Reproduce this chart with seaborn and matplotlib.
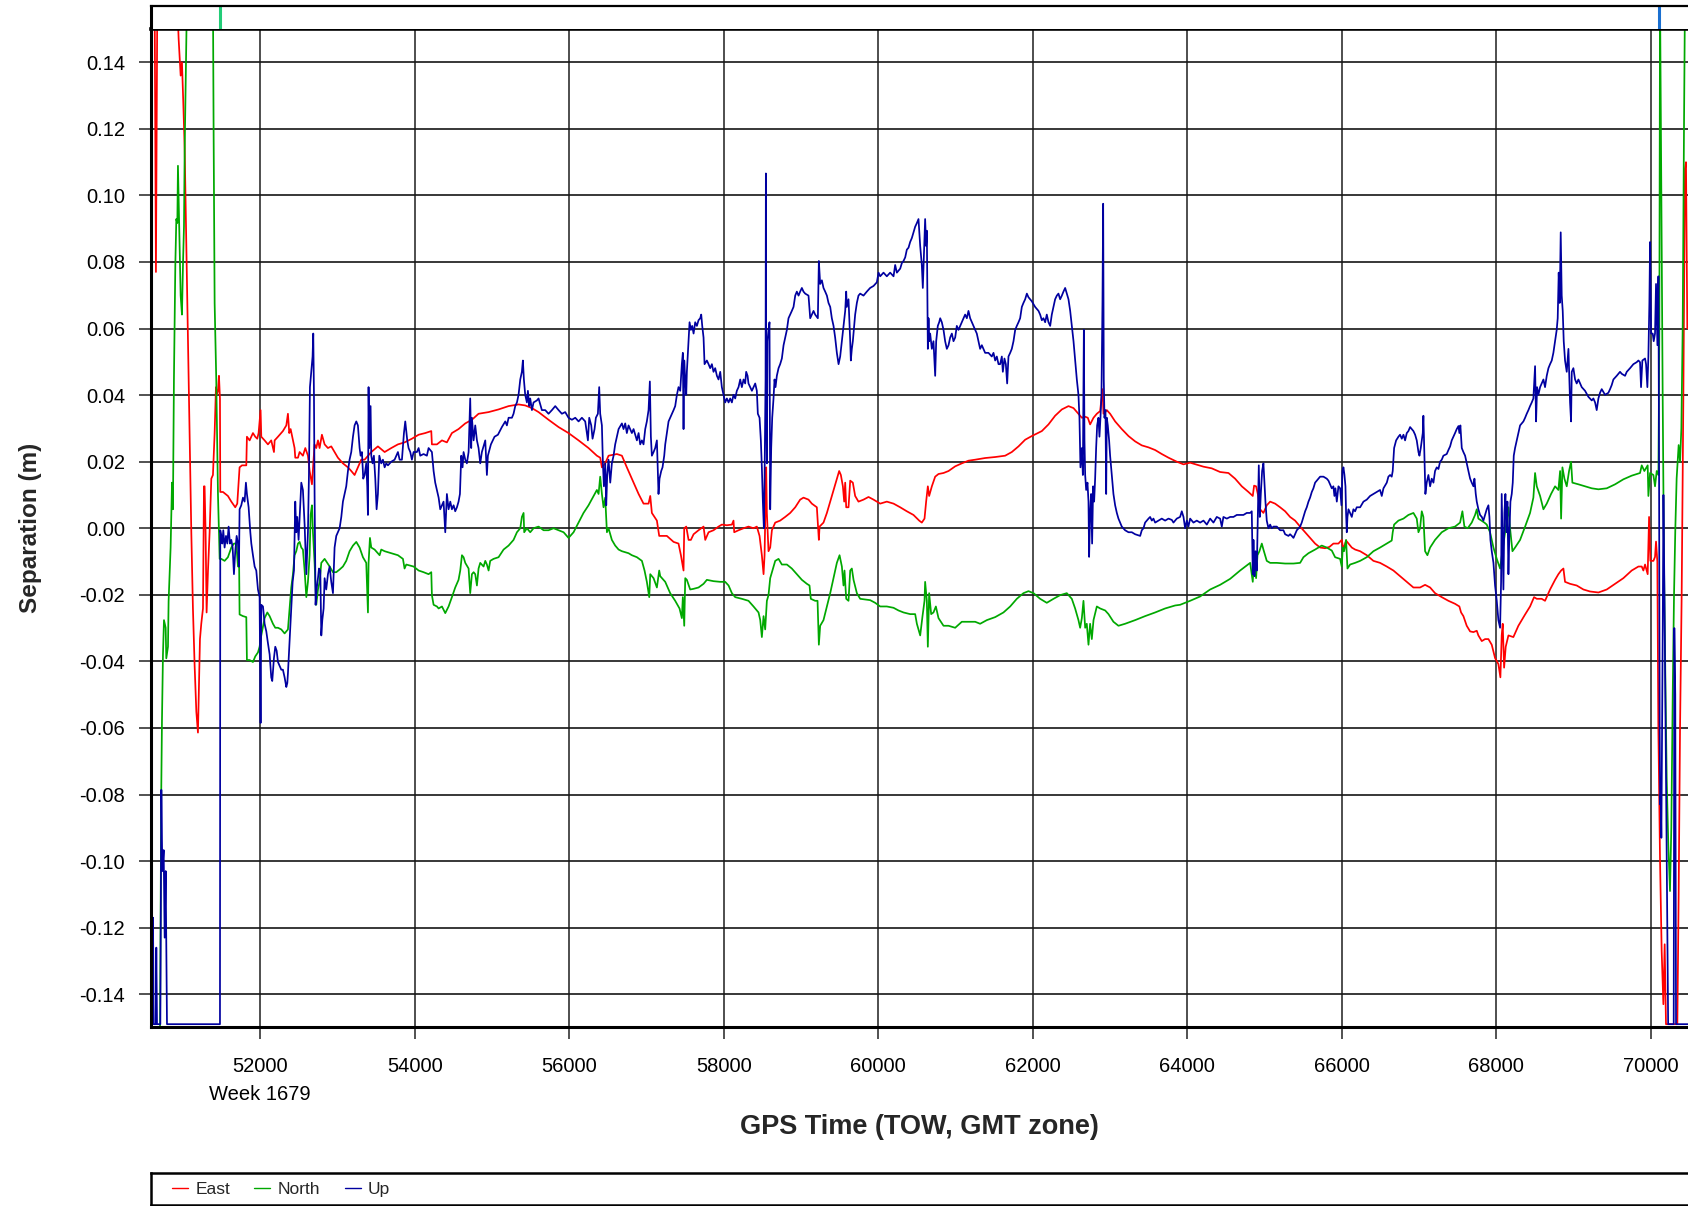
import numpy as np
import pandas as pd
import matplotlib
matplotlib.use("Agg")
import matplotlib.pyplot as plt
import seaborn as sns
from matplotlib.lines import Line2D
from matplotlib.ticker import FormatStrFormatter

# East separation (s of week, metres)
east_t = [50589, 50595, 50632, 50649, 50667, 50921, 50943, 50969, 50986, 51003, 51021, 51042,
          51064, 51085, 51107, 51128, 51150, 51172, 51193, 51206, 51219, 51236, 51258, 51271,
          51279, 51292, 51305, 51323, 51344, 51366, 51387, 51409, 51426, 51439, 51452, 51465,
          51478, 51482, 51517, 51581, 51625, 51676, 51702, 51732, 51763, 51819, 51827, 51862,
          51905, 51935, 51961, 51978, 52004, 52013, 52056, 52099, 52142, 52177, 52186, 52229,
          52293, 52337, 52358, 52375, 52393, 52423, 52444, 52453, 52488, 52509, 52552, 52583,
          52617, 52639, 52669, 52703, 52725, 52747, 52768, 52798, 52833, 52876, 52919, 52962,
          53005, 53070, 53135, 53178, 53221, 53264, 53307, 53351, 53437, 53523, 53610, 53696,
          53782, 53868, 53963, 54050, 54136, 54214, 54222, 54287, 54352, 54416, 54481, 54567,
          54654, 54740, 54826, 54956, 55085, 55215, 55344, 55430, 55517, 55603, 55732, 55862,
          55991, 56121, 56250, 56358, 56401, 56423, 56466, 56509, 56617, 56682, 56746, 56811,
          56898, 56962, 57027, 57049, 57070, 57135, 57165, 57264, 57351, 57415, 57446, 57480,
          57489, 57515, 57545, 57575, 57610, 57674, 57739, 57761, 57804, 57868, 57933, 57976,
          58041, 58106, 58127, 58136, 58192, 58257, 58321, 58386, 58429, 58464, 58494, 58516,
          58529, 58550, 58559, 58580, 58602, 58624, 58667, 58731, 58796, 58861, 58926, 58990,
          59033, 59098, 59141, 59206, 59232, 59241, 59292, 59336, 59379, 59422, 59465, 59495,
          59517, 59543, 59560, 59573, 59586, 59616, 59638, 59672, 59702, 59745, 59810, 59875,
          59940, 60026, 60112, 60199, 60285, 60371, 60457, 60531, 60565, 60600, 60621, 60643,
          60660, 60695, 60738, 60781, 60846, 60911, 60997, 61083, 61169, 61256, 61385, 61515,
          61644, 61730, 61817, 61903, 61989, 62119, 62205, 62291, 62378, 62464, 62529, 62593,
          62637, 62680, 62714, 62744, 62788, 62831, 62874, 62904, 62917, 62960, 63003, 63068,
          63154, 63241, 63327, 63413, 63500, 63586, 63672, 63759, 63866, 63953, 64039, 64125,
          64212, 64319, 64427, 64535, 64621, 64708, 64794, 64850, 64867, 64893, 64915, 64945,
          64988, 65031, 65075, 65139, 65204, 65269, 65333, 65398, 65463, 65528, 65592, 65657,
          65722, 65786, 65843, 65894, 65959, 66002, 66024, 66058, 66089, 66132, 66175, 66240,
          66326, 66412, 66498, 66585, 66671, 66757, 66844, 66930, 67016, 67081, 67146, 67210,
          67297, 67383, 67469, 67525, 67547, 67577, 67620, 67664, 67707, 67750, 67771, 67815,
          67858, 67901, 67944, 67987, 68030, 68056, 68073, 68086, 68104, 68125, 68160, 68224,
          68289, 68376, 68440, 68492, 68527, 68591, 68634, 68699, 68764, 68807, 68842, 68872,
          68893, 68958, 69044, 69131, 69217, 69325, 69433, 69541, 69648, 69756, 69843, 69886,
          69907, 69929, 69963, 69981, 69998, 70037, 70058, 70071, 70088, 70101, 70123, 70144,
          70166, 70183, 70200, 70347, 70364, 70382, 70403, 70425, 70446, 70459, 70476, 70490]
east_v = [0.020, 0.160, 0.160, 0.077, 0.160, 0.160, 0.147, 0.136, 0.140, 0.128, 0.114, 0.0848,
          0.0562, 0.0275, -0.0012, -0.0241, -0.0413, -0.0551, -0.0614, -0.0471, -0.0333, -0.0287, -0.0241, 0.0126,
          0.0126, -0.0012, -0.0253, -0.0127, -0.0012, 0.0149, 0.0160, 0.0286, 0.0424, 0.0401, 0.0412, 0.0458,
          0.0390, 0.0109, 0.0109, 0.0097, 0.0080, 0.0063, 0.0074, 0.0183, 0.0189, 0.0189, 0.0275, 0.0264,
          0.0286, 0.0275, 0.0269, 0.0286, 0.0355, 0.0275, 0.0264, 0.0252, 0.0264, 0.0229, 0.0264, 0.0275,
          0.0292, 0.0309, 0.0344, 0.0286, 0.0298, 0.0264, 0.0241, 0.0212, 0.0212, 0.0229, 0.0218, 0.0241,
          0.0218, 0.0172, 0.0132, 0.0252, 0.0241, 0.0264, 0.0241, 0.0281, 0.0252, 0.0241, 0.0246, 0.0229,
          0.0212, 0.0195, 0.0183, 0.0172, 0.0160, 0.0183, 0.0206, 0.0206, 0.0229, 0.0246, 0.0229, 0.0241,
          0.0252, 0.0258, 0.0269, 0.0281, 0.0286, 0.0292, 0.0252, 0.0252, 0.0264, 0.0258, 0.0286, 0.0298,
          0.0315, 0.0326, 0.0344, 0.0349, 0.0357, 0.0367, 0.0372, 0.0369, 0.0361, 0.0349, 0.0326, 0.0304,
          0.0286, 0.0264, 0.0241, 0.0218, 0.0212, 0.0183, 0.0195, 0.0218, 0.0223, 0.0218, 0.0183, 0.0149,
          0.0103, 0.0074, 0.0074, 0.0097, 0.0046, 0.0023, -0.0023, -0.0023, -0.0041, -0.0046, -0.0081, -0.0127,
          0.0000, 0.0005, -0.0035, -0.0035, -0.0018, -0.0006, 0.0005, -0.0035, -0.0012, -0.0006, 0.0005, 0.0011,
          0.0009, 0.0011, 0.0023, -0.0012, -0.0006, 0.0000, 0.0005, 0.0000, 0.0005, -0.0023, -0.0081, -0.0138,
          -0.0081, 0.0183, 0.0046, -0.0069, -0.0058, -0.0006, 0.0017, 0.0023, 0.0034, 0.0046, 0.0063, 0.0086,
          0.0092, 0.0086, 0.0074, 0.0063, -0.0035, 0.0005, 0.0017, 0.0046, 0.0080, 0.0115, 0.0149, 0.0172,
          0.0160, 0.0126, 0.0080, 0.0137, 0.0063, 0.0063, 0.0143, 0.0137, 0.0097, 0.0080, 0.0086, 0.0094,
          0.0086, 0.0074, 0.0080, 0.0074, 0.0063, 0.0051, 0.0040, 0.0023, 0.0017, 0.0029, 0.0080, 0.0126,
          0.0097, 0.0126, 0.0155, 0.0163, 0.0166, 0.0172, 0.0186, 0.0195, 0.0203, 0.0206, 0.0211, 0.0214,
          0.0218, 0.0229, 0.0246, 0.0266, 0.0277, 0.0292, 0.0312, 0.0338, 0.0357, 0.0367, 0.0361, 0.0344,
          0.0332, 0.0335, 0.0332, 0.0312, 0.0332, 0.0344, 0.0352, 0.0418, 0.0344, 0.0355, 0.0344, 0.0321,
          0.0298, 0.0277, 0.0261, 0.0249, 0.0243, 0.0235, 0.0223, 0.0212, 0.0200, 0.0192, 0.0197, 0.0191,
          0.0185, 0.0180, 0.0169, 0.0166, 0.0149, 0.0126, 0.0109, 0.0097, 0.0128, 0.0126, 0.0103, 0.0057,
          0.0046, 0.0069, 0.0080, 0.0074, 0.0063, 0.0051, 0.0034, 0.0023, 0.0005, -0.0012, -0.0029, -0.0046,
          -0.0058, -0.0060, -0.0056, -0.0046, -0.0046, -0.0035, -0.0064, -0.0037, -0.0046, -0.0058, -0.0064, -0.0069,
          -0.0081, -0.0098, -0.0104, -0.0115, -0.0127, -0.0144, -0.0161, -0.0178, -0.0178, -0.0170, -0.0178, -0.0195,
          -0.0207, -0.0218, -0.0227, -0.0235, -0.0253, -0.0264, -0.0293, -0.0310, -0.0312, -0.0308, -0.0322, -0.0339,
          -0.0333, -0.0333, -0.0350, -0.0390, -0.0408, -0.0448, -0.0322, -0.0287, -0.0419, -0.0356, -0.0322, -0.0327,
          -0.0293, -0.0259, -0.0235, -0.0207, -0.0212, -0.0212, -0.0218, -0.0184, -0.0155, -0.0138, -0.0127, -0.0121,
          -0.0161, -0.0167, -0.0172, -0.0184, -0.0190, -0.0193, -0.0184, -0.0167, -0.0150, -0.0127, -0.0115, -0.0115,
          -0.0127, -0.0109, -0.0138, 0.0034, -0.0098, -0.0098, -0.0086, -0.0040, -0.0100, -0.0600, -0.1000, -0.1270,
          -0.1430, -0.1250, -0.1490, -0.1490, -0.1100, -0.0600, -0.0200, 0.0400, 0.1080, 0.1100, 0.0600, 0.0600]

# North separation
north_t = [50700, 50718, 50727, 50740, 50753, 50775, 50783, 50805, 50813, 50839, 50857, 50869,
           50882, 50900, 50913, 50926, 50934, 50951, 50969, 50986, 50999, 51012, 51021, 51051,
           51387, 51396, 51409, 51430, 51452, 51474, 51495, 51538, 51581, 51625, 51659, 51689,
           51711, 51724, 51732, 51776, 51819, 51827, 51862, 51905, 51935, 51970, 51991, 52013,
           52056, 52091, 52121, 52164, 52194, 52229, 52272, 52315, 52358, 52380, 52401, 52423,
           52444, 52466, 52488, 52509, 52531, 52552, 52574, 52596, 52617, 52639, 52652, 52669,
           52682, 52703, 52725, 52747, 52768, 52790, 52833, 52898, 52941, 52984, 53027, 53070,
           53113, 53156, 53200, 53243, 53286, 53329, 53372, 53394, 53402, 53420, 53437, 53480,
           53545, 53566, 53610, 53696, 53782, 53847, 53868, 53890, 53985, 54050, 54114, 54179,
           54214, 54222, 54244, 54287, 54309, 54352, 54395, 54438, 54481, 54524, 54567, 54589,
           54611, 54632, 54654, 54697, 54718, 54740, 54762, 54783, 54805, 54826, 54848, 54891,
           54913, 54934, 54956, 54977, 55020, 55085, 55150, 55215, 55279, 55323, 55366, 55387,
           55409, 55417, 55452, 55495, 55538, 55603, 55668, 55732, 55797, 55862, 55927, 55991,
           56056, 56121, 56185, 56250, 56315, 56358, 56380, 56401, 56423, 56444, 56466, 56488,
           56509, 56552, 56595, 56639, 56682, 56768, 56811, 56876, 56941, 56975, 57005, 57036,
           57049, 57092, 57135, 57165, 57178, 57243, 57307, 57372, 57428, 57458, 57471, 57489,
           57502, 57523, 57566, 57610, 57674, 57739, 57782, 57868, 57955, 58019, 58063, 58106,
           58149, 58235, 58321, 58386, 58451, 58473, 58494, 58516, 58537, 58559, 58580, 58602,
           58624, 58667, 58710, 58753, 58818, 58882, 58947, 59012, 59077, 59111, 59128, 59184,
           59215, 59232, 59249, 59292, 59336, 59379, 59422, 59465, 59500, 59530, 59551, 59564,
           59586, 59616, 59638, 59659, 59681, 59724, 59767, 59896, 59961, 60026, 60112, 60199,
           60263, 60328, 60414, 60479, 60501, 60544, 60574, 60600, 60608, 60630, 60643, 60660,
           60686, 60716, 60747, 60781, 60846, 60911, 60997, 61083, 61169, 61256, 61320, 61407,
           61515, 61622, 61709, 61795, 61881, 61946, 62011, 62097, 62183, 62270, 62356, 62442,
           62507, 62550, 62593, 62615, 62637, 62658, 62680, 62701, 62723, 62744, 62766, 62788,
           62831, 62874, 62939, 62982, 63046, 63111, 63197, 63327, 63456, 63586, 63715, 63845,
           63909, 64039, 64168, 64298, 64427, 64557, 64686, 64816, 64850, 64867, 64893, 64911,
           64936, 64967, 64988, 65031, 65075, 65161, 65269, 65377, 65463, 65506, 65571, 65657,
           65743, 65808, 65873, 65916, 65981, 66002, 66015, 66032, 66058, 66076, 66110, 66175,
           66240, 66326, 66412, 66498, 66585, 66649, 66662, 66680, 66736, 66801, 66865, 66930,
           66973, 66995, 67016, 67038, 67059, 67081, 67111, 67146, 67210, 67297, 67383, 67469,
           67534, 67564, 67590, 67633, 67685, 67728, 67750, 67771, 67849, 67879, 67922, 67966,
           68009, 68052, 68082, 68117, 68160, 68181, 68212, 68246, 68311, 68376, 68440, 68483,
           68505, 68527, 68570, 68613, 68656, 68712, 68764, 68807, 68829, 68842, 68859, 68885,
           68915, 68945, 68971, 68988, 69066, 69152, 69239, 69325, 69433, 69541, 69648, 69756,
           69864, 69886, 69920, 69963, 69972, 69994, 70037, 70058, 70080, 70102, 70114, 70123,
           70140, 70157, 70174, 70192, 70209, 70230, 70252, 70269, 70287, 70304, 70321, 70338,
           70364, 70382, 70399, 70416, 70433, 70446, 70490]
north_v = [-0.160, -0.0786, -0.058, -0.038, -0.0276, -0.0299, -0.0391, -0.0356, -0.0219, -0.0058, 0.0137, 0.0057,
           0.0447, 0.0791, 0.0929, 0.0917, 0.1089, 0.0906, 0.0699, 0.0642, 0.0791, 0.0906, 0.1135, 0.160,
           0.160, 0.118, 0.0676, 0.0447, 0.0103, -0.0092, -0.0092, -0.0098, -0.0087, -0.0058, -0.0046, -0.0046,
           -0.0115, -0.0058, -0.0259, -0.0264, -0.0267, -0.0396, -0.0396, -0.0402, -0.0385, -0.0373, -0.0356, -0.0322,
           -0.0270, -0.0253, -0.0264, -0.0287, -0.0299, -0.0299, -0.0304, -0.0316, -0.0304, -0.0241, -0.0178, -0.0138,
           -0.0081, -0.0069, -0.0046, -0.0041, -0.0058, -0.0064, -0.0127, -0.0207, -0.0161, -0.0081, 0.0040, 0.0069,
           -0.0012, -0.0104, -0.0230, -0.0184, -0.0161, -0.0104, -0.0092, -0.0115, -0.0132, -0.0132, -0.0124, -0.0115,
           -0.0098, -0.0069, -0.0052, -0.0041, -0.0058, -0.0087, -0.0104, -0.0253, -0.0104, -0.0029, -0.0058, -0.0064,
           -0.0081, -0.0064, -0.0069, -0.0075, -0.0081, -0.0092, -0.0121, -0.0109, -0.0115, -0.0127, -0.0132, -0.0138,
           -0.0132, -0.0201, -0.0230, -0.0235, -0.0241, -0.0235, -0.0255, -0.0235, -0.0207, -0.0178, -0.0155, -0.0127,
           -0.0081, -0.0087, -0.0104, -0.0121, -0.0195, -0.0138, -0.0132, -0.0138, -0.0172, -0.0121, -0.0104, -0.0115,
           -0.0098, -0.0109, -0.0127, -0.0098, -0.0092, -0.0087, -0.0064, -0.0052, -0.0035, -0.0012, 0.0000, 0.0034,
           0.0046, -0.0012, 0.0000, -0.0012, 0.0000, 0.0005, -0.0006, -0.0006, 0.0000, -0.0006, -0.0012, -0.0029,
           -0.0012, 0.0017, 0.0046, 0.0069, 0.0097, 0.0115, 0.0103, 0.0155, 0.0103, 0.0063, 0.0092, -0.0012,
           0.0000, -0.0035, -0.0052, -0.0064, -0.0069, -0.0075, -0.0081, -0.0087, -0.0098, -0.0127, -0.0161, -0.0207,
           -0.0138, -0.0150, -0.0178, -0.0127, -0.0144, -0.0161, -0.0195, -0.0218, -0.0241, -0.0270, -0.0207, -0.0293,
           -0.0150, -0.0155, -0.0184, -0.0182, -0.0178, -0.0167, -0.0155, -0.0159, -0.0161, -0.0161, -0.0172, -0.0195,
           -0.0207, -0.0212, -0.0218, -0.0235, -0.0253, -0.0276, -0.0327, -0.0264, -0.0304, -0.0218, -0.0201, -0.0150,
           -0.0132, -0.0098, -0.0092, -0.0109, -0.0109, -0.0121, -0.0138, -0.0155, -0.0167, -0.0172, -0.0212, -0.0218,
           -0.0218, -0.0350, -0.0293, -0.0276, -0.0235, -0.0195, -0.0150, -0.0104, -0.0081, -0.0115, -0.0172, -0.0127,
           -0.0212, -0.0218, -0.0127, -0.0121, -0.0155, -0.0195, -0.0212, -0.0216, -0.0224, -0.0235, -0.0235, -0.0239,
           -0.0247, -0.0253, -0.0258, -0.0258, -0.0287, -0.0322, -0.0264, -0.0218, -0.0161, -0.0218, -0.0356, -0.0195,
           -0.0258, -0.0253, -0.0235, -0.0270, -0.0293, -0.0293, -0.0299, -0.0281, -0.0281, -0.0281, -0.0287, -0.0276,
           -0.0267, -0.0253, -0.0235, -0.0212, -0.0195, -0.0189, -0.0195, -0.0212, -0.0224, -0.0212, -0.0201, -0.0195,
           -0.0212, -0.0241, -0.0276, -0.0299, -0.0270, -0.0218, -0.0299, -0.0287, -0.0350, -0.0287, -0.0333, -0.0276,
           -0.0235, -0.0241, -0.0247, -0.0258, -0.0281, -0.0293, -0.0287, -0.0276, -0.0264, -0.0253, -0.0241, -0.0232,
           -0.0230, -0.0218, -0.0205, -0.0184, -0.0170, -0.0152, -0.0127, -0.0104, -0.0161, -0.0087, -0.0150, -0.0081,
           -0.0069, -0.0046, -0.0064, -0.0098, -0.0104, -0.0104, -0.0106, -0.0106, -0.0104, -0.0087, -0.0075, -0.0064,
           -0.0052, -0.0058, -0.0067, -0.0087, -0.0092, -0.0115, -0.0058, -0.0069, -0.0035, -0.0121, -0.0109, -0.0104,
           -0.0098, -0.0087, -0.0069, -0.0058, -0.0046, -0.0037, -0.0012, 0.0011, 0.0023, 0.0029, 0.0040, 0.0046,
           0.0029, -0.0012, 0.0000, 0.0051, 0.0034, -0.0069, -0.0081, -0.0058, -0.0035, -0.0012, 0.0000, 0.0005,
           0.0017, 0.0051, 0.0005, 0.0000, 0.0017, 0.0040, 0.0057, 0.0029, 0.0017, 0.0011, -0.0012, -0.0058,
           -0.0092, -0.0121, -0.0069, -0.0012, 0.0063, 0.0000, -0.0069, -0.0058, -0.0035, 0.0005, 0.0046, 0.0092,
           0.0166, 0.0126, 0.0097, 0.0057, 0.0074, 0.0103, 0.0126, 0.0115, 0.0172, 0.0029, 0.0183, 0.0149,
           0.0126, 0.0172, 0.0200, 0.0137, 0.0132, 0.0126, 0.0120, 0.0117, 0.0120, 0.0132, 0.0147, 0.0158,
           0.0166, 0.0189, 0.0172, 0.0189, 0.0097, 0.0166, 0.0160, 0.0126, 0.0172, 0.0160, 0.0600, 0.160,
           0.100, 0.040, -0.010, -0.045, -0.075, -0.095, -0.109, -0.090, -0.050, -0.020, 0.000, 0.015,
           0.025, 0.020, 0.030, 0.060, 0.120, 0.160, 0.160]

# Up separation
up_t = [50589, 50595, 50602, 50611, 50620, 50646, 50654, 50663, 50706, 50719, 50732, 50749,
        50762, 50775, 50792, 51478, 51482, 51495, 51508, 51521, 51538, 51556, 51573, 51590,
        51607, 51625, 51642, 51659, 51676, 51694, 51711, 51724, 51732, 51754, 51776, 51797,
        51814, 51827, 51849, 51871, 51884, 51905, 51927, 51948, 51970, 51991, 52004, 52013,
        52035, 52056, 52078, 52099, 52121, 52142, 52155, 52177, 52194, 52212, 52229, 52250,
        52272, 52293, 52315, 52337, 52350, 52358, 52380, 52401, 52419, 52436, 52453, 52466,
        52479, 52496, 52513, 52531, 52552, 52574, 52596, 52617, 52630, 52643, 52660, 52677,
        52686, 52695, 52703, 52716, 52729, 52747, 52760, 52777, 52790, 52803, 52820, 52833,
        52854, 52876, 52898, 52919, 52941, 52962, 52984, 53005, 53027, 53049, 53070, 53092,
        53113, 53135, 53156, 53178, 53200, 53221, 53243, 53264, 53286, 53299, 53316, 53333,
        53351, 53372, 53385, 53394, 53402, 53411, 53428, 53437, 53454, 53471, 53489, 53506,
        53523, 53541, 53566, 53588, 53610, 53631, 53653, 53696, 53739, 53782, 53804, 53834,
        53860, 53877, 53903, 53920, 53942, 53963, 53985, 54028, 54050, 54071, 54114, 54157,
        54179, 54222, 54244, 54265, 54287, 54309, 54330, 54352, 54373, 54395, 54416, 54438,
        54460, 54481, 54503, 54524, 54546, 54567, 54585, 54602, 54619, 54632, 54654, 54675,
        54697, 54718, 54731, 54740, 54762, 54783, 54805, 54826, 54848, 54869, 54913, 54934,
        54947, 54986, 55033, 55077, 55128, 55172, 55193, 55215, 55258, 55279, 55301, 55323,
        55344, 55366, 55387, 55400, 55413, 55430, 55452, 55465, 55482, 55495, 55517, 55538,
        55581, 55603, 55646, 55689, 55732, 55776, 55819, 55862, 55905, 55948, 55991, 56035,
        56078, 56121, 56164, 56207, 56242, 56259, 56285, 56302, 56328, 56345, 56371, 56388,
        56401, 56423, 56436, 56449, 56466, 56479, 56492, 56509, 56531, 56552, 56574, 56595,
        56617, 56639, 56682, 56703, 56725, 56746, 56768, 56811, 56833, 56854, 56876, 56898,
        56919, 56941, 56962, 56984, 57005, 57027, 57044, 57057, 57070, 57092, 57113, 57135,
        57156, 57169, 57191, 57208, 57230, 57243, 57264, 57286, 57307, 57329, 57351, 57372,
        57394, 57415, 57437, 57458, 57471, 57480, 57489, 57502, 57515, 57523, 57545, 57558,
        57575, 57592, 57610, 57631, 57653, 57674, 57696, 57709, 57722, 57739, 57752, 57782,
        57804, 57825, 57847, 57868, 57890, 57912, 57933, 57955, 57976, 57998, 58019, 58041,
        58063, 58084, 58106, 58127, 58149, 58170, 58192, 58214, 58235, 58257, 58278, 58291,
        58309, 58321, 58343, 58365, 58386, 58408, 58429, 58442, 58464, 58481, 58494, 58507,
        58520, 58529, 58542, 58546, 58550, 58559, 58567, 58580, 58593, 58602, 58615, 58628,
        58645, 58658, 58671, 58688, 58710, 58731, 58753, 58775, 58796, 58818, 58839, 58861,
        58882, 58904, 58926, 58947, 58969, 58990, 59012, 59033, 59055, 59098, 59120, 59141,
        59163, 59184, 59219, 59232, 59249, 59271, 59292, 59314, 59336, 59357, 59379, 59400,
        59422, 59443, 59465, 59487, 59508, 59530, 59551, 59573, 59586, 59594, 59616, 59638,
        59646, 59659, 59672, 59689, 59702, 59724, 59745, 59767, 59810, 59853, 59896, 59940,
        59983, 60005, 60026, 60069, 60112, 60155, 60199, 60220, 60242, 60285, 60307, 60328,
        60350, 60371, 60393, 60414, 60436, 60457, 60479, 60501, 60522, 60544, 60565, 60578,
        60596, 60608, 60621, 60630, 60643, 60652, 60660, 60673, 60695, 60716, 60729, 60738,
        60751, 60772, 60790, 60803, 60824, 60846, 60867, 60889, 60911, 60932, 60954, 60975,
        60997, 61018, 61040, 61062, 61083, 61105, 61126, 61148, 61169, 61191, 61213, 61234,
        61256, 61277, 61299, 61320, 61342, 61385, 61428, 61471, 61493, 61515, 61536, 61558,
        61579, 61601, 61614, 61635, 61653, 61670, 61687, 61709, 61730, 61752, 61774, 61795,
        61817, 61838, 61860, 61881, 61903, 61925, 61946, 61989, 62032, 62076, 62097, 62119,
        62140, 62162, 62183, 62205, 62227, 62248, 62270, 62291, 62313, 62334, 62356, 62378,
        62399, 62421, 62442, 62464, 62486, 62507, 62529, 62550, 62572, 62593, 62606, 62619,
        62637, 62650, 62663, 62671, 62680, 62693, 62710, 62723, 62731, 62744, 62757, 62770,
        62783, 62796, 62809, 62822, 62835, 62852, 62865, 62878, 62891, 62904, 62913, 62921,
        62930, 62943, 62952, 62960, 62973, 62990, 63003, 63025, 63046, 63068, 63090, 63111,
        63154, 63197, 63241, 63284, 63327, 63392, 63413, 63435, 63456, 63500, 63521, 63543,
        63564, 63586, 63629, 63672, 63715, 63759, 63802, 63823, 63866, 63909, 63931, 63953,
        63974, 63996, 64017, 64039, 64082, 64125, 64168, 64212, 64255, 64298, 64341, 64384,
        64427, 64449, 64470, 64514, 64557, 64600, 64643, 64729, 64772, 64816, 64837, 64850,
        64859, 64872, 64885, 64902, 64915, 64928, 64941, 64954, 64971, 64988, 65001, 65014,
        65031, 65053, 65075, 65096, 65118, 65161, 65204, 65247, 65269, 65312, 65333, 65355,
        65377, 65398, 65420, 65463, 65484, 65506, 65528, 65549, 65571, 65592, 65614, 65635,
        65657, 65679, 65722, 65765, 65808, 65830, 65851, 65873, 65894, 65907, 65920, 65938,
        65959, 65981, 65998, 66011, 66024, 66037, 66050, 66058, 66067, 66076, 66089, 66110,
        66132, 66153, 66175, 66196, 66240, 66283, 66326, 66369, 66412, 66455, 66498, 66520,
        66542, 66585, 66606, 66628, 66649, 66662, 66680, 66706, 66736, 66757, 66779, 66801,
        66822, 66844, 66865, 66887, 66908, 66930, 66952, 66973, 66995, 67008, 67025, 67038,
        67051, 67059, 67072, 67085, 67102, 67124, 67146, 67167, 67189, 67210, 67232, 67254,
        67275, 67297, 67318, 67361, 67383, 67405, 67426, 67448, 67469, 67491, 67513, 67525,
        67538, 67556, 67577, 67599, 67620, 67642, 67664, 67685, 67707, 67720, 67737, 67750,
        67771, 67793, 67815, 67836, 67858, 67879, 67901, 67914, 67927, 67944, 67966, 67987,
        68009, 68030, 68052, 68065, 68073, 68082, 68095, 68108, 68121, 68134, 68147, 68160,
        68173, 68186, 68203, 68216, 68229, 68246, 68268, 68289, 68311, 68354, 68376, 68397,
        68419, 68440, 68462, 68483, 68505, 68518, 68531, 68548, 68570, 68591, 68613, 68634,
        68656, 68678, 68699, 68721, 68742, 68764, 68785, 68798, 68811, 68824, 68837, 68850,
        68863, 68876, 68893, 68915, 68937, 68958, 68971, 68980, 69001, 69023, 69044, 69066,
        69109, 69152, 69195, 69239, 69260, 69282, 69303, 69325, 69346, 69368, 69411, 69454,
        69476, 69497, 69519, 69562, 69605, 69627, 69670, 69692, 69735, 69778, 69821, 69843,
        69864, 69877, 69894, 69929, 69942, 69959, 69972, 69985, 69994, 70007, 70028, 70041,
        70058, 70071, 70089, 70102, 70110, 70118, 70125, 70132, 70140, 70150, 70158, 70167,
        70180, 70195, 70207, 70219, 70228, 70300, 70308, 70320, 70330, 70490]
up_v = [0.0000, -0.149, -0.149, -0.117, -0.149, -0.149, -0.126, -0.149, -0.149, -0.0786, -0.103, -0.0967,
        -0.123, -0.103, -0.149, -0.149, -0.0006, -0.0023, -0.0046, -0.0006, -0.0058, -0.0023, -0.0046, 0.0005,
        -0.0046, -0.0035, -0.0058, -0.0138, -0.0069, -0.0023, -0.0046, -0.0115, 0.0057, 0.0069, 0.0092, 0.0080,
        0.0137, 0.0103, 0.0063, -0.0012, -0.0046, -0.0081, -0.0115, -0.0127, -0.0184, -0.0207, -0.0585, -0.0230,
        -0.0235, -0.0287, -0.0310, -0.0345, -0.0379, -0.0448, -0.0459, -0.0390, -0.0356, -0.0368, -0.0402, -0.0413,
        -0.0425, -0.0425, -0.0448, -0.0477, -0.0465, -0.0436, -0.0333, -0.0241, -0.0161, -0.0127, 0.0080, -0.0012,
        0.0034, -0.0035, 0.0046, 0.0137, 0.0115, 0.0011, -0.0138, -0.0012, 0.0160, 0.0424, 0.0470, 0.0516,
        0.0585, 0.0401, 0.0103, -0.0230, -0.0184, -0.0150, -0.0121, -0.0127, -0.0322, -0.0276, -0.0241, -0.0150,
        -0.0184, -0.0138, -0.0115, -0.0161, -0.0195, -0.0058, -0.0023, -0.0012, 0.0000, 0.0034, 0.0080, 0.0103,
        0.0126, 0.0172, 0.0206, 0.0229, 0.0275, 0.0309, 0.0321, 0.0309, 0.0241, 0.0218, 0.0229, 0.0149,
        0.0160, 0.0195, 0.0126, 0.0040, 0.0424, 0.0241, 0.0367, 0.0218, 0.0195, 0.0218, 0.0149, 0.0057,
        0.0103, 0.0218, 0.0195, 0.0206, 0.0183, 0.0195, 0.0189, 0.0200, 0.0206, 0.0229, 0.0206, 0.0206,
        0.0286, 0.0321, 0.0264, 0.0241, 0.0229, 0.0206, 0.0229, 0.0229, 0.0241, 0.0218, 0.0223, 0.0218,
        0.0241, 0.0229, 0.0172, 0.0137, 0.0115, 0.0092, 0.0057, 0.0069, 0.0080, -0.0012, 0.0103, 0.0057,
        0.0080, 0.0057, 0.0069, 0.0051, 0.0063, 0.0080, 0.0103, 0.0218, 0.0183, 0.0229, 0.0206, 0.0195,
        0.0229, 0.0390, 0.0241, 0.0332, 0.0264, 0.0309, 0.0264, 0.0241, 0.0195, 0.0229, 0.0264, 0.0160,
        0.0218, 0.0252, 0.0275, 0.0281, 0.0304, 0.0321, 0.0309, 0.0332, 0.0332, 0.0344, 0.0367, 0.0378,
        0.0401, 0.0447, 0.0470, 0.0504, 0.0447, 0.0401, 0.0378, 0.0413, 0.0367, 0.0390, 0.0355, 0.0378,
        0.0384, 0.0390, 0.0355, 0.0355, 0.0344, 0.0355, 0.0367, 0.0355, 0.0344, 0.0349, 0.0332, 0.0326,
        0.0332, 0.0321, 0.0332, 0.0321, 0.0264, 0.0332, 0.0309, 0.0269, 0.0298, 0.0332, 0.0344, 0.0424,
        0.0344, 0.0309, 0.0195, 0.0126, 0.0195, 0.0069, 0.0160, 0.0206, 0.0137, 0.0195, 0.0218, 0.0252,
        0.0275, 0.0298, 0.0315, 0.0298, 0.0315, 0.0286, 0.0309, 0.0286, 0.0298, 0.0281, 0.0264, 0.0286,
        0.0252, 0.0264, 0.0252, 0.0298, 0.0321, 0.0355, 0.0441, 0.0275, 0.0218, 0.0229, 0.0241, 0.0264,
        0.0103, 0.0149, 0.0172, 0.0183, 0.0218, 0.0252, 0.0286, 0.0321, 0.0332, 0.0344, 0.0355, 0.0367,
        0.0401, 0.0424, 0.0413, 0.0493, 0.0527, 0.0298, 0.0504, 0.0447, 0.0401, 0.0470, 0.0562, 0.0619,
        0.0596, 0.0608, 0.0585, 0.0619, 0.0608, 0.0625, 0.0631, 0.0642, 0.0608, 0.0573, 0.0493, 0.0504,
        0.0493, 0.0481, 0.0493, 0.0470, 0.0481, 0.0458, 0.0447, 0.0470, 0.0424, 0.0401, 0.0378, 0.0390,
        0.0378, 0.0390, 0.0378, 0.0401, 0.0390, 0.0413, 0.0424, 0.0447, 0.0424, 0.0447, 0.0435, 0.0470,
        0.0458, 0.0435, 0.0424, 0.0413, 0.0424, 0.0435, 0.0413, 0.0344, 0.0332, 0.0264, 0.0183, 0.0080,
        0.0000, 0.0149, 0.0447, 0.1066, 0.0447, 0.0195, 0.0562, 0.0596, 0.0619, 0.0057, 0.0241, 0.0332,
        0.0390, 0.0447, 0.0424, 0.0458, 0.0481, 0.0493, 0.0510, 0.0550, 0.0573, 0.0596, 0.0631, 0.0642,
        0.0653, 0.0665, 0.0699, 0.0711, 0.0699, 0.0711, 0.0722, 0.0711, 0.0705, 0.0699, 0.0631, 0.0642,
        0.0653, 0.0642, 0.0631, 0.0803, 0.0734, 0.0745, 0.0722, 0.0711, 0.0699, 0.0677, 0.0665, 0.0631,
        0.0608, 0.0573, 0.0527, 0.0493, 0.0516, 0.0562, 0.0608, 0.0653, 0.0711, 0.0665, 0.0688, 0.0562,
        0.0504, 0.0539, 0.0562, 0.0608, 0.0642, 0.0677, 0.0699, 0.0705, 0.0699, 0.0711, 0.0722, 0.0728,
        0.0739, 0.0768, 0.0757, 0.0768, 0.0757, 0.0768, 0.0757, 0.0791, 0.0768, 0.0780, 0.0797, 0.0803,
        0.0814, 0.0837, 0.0843, 0.0860, 0.0872, 0.0889, 0.0906, 0.0917, 0.0929, 0.0848, 0.0791, 0.0722,
        0.0848, 0.0929, 0.0848, 0.0894, 0.0539, 0.0631, 0.0562, 0.0585, 0.0539, 0.0562, 0.0504, 0.0458,
        0.0562, 0.0608, 0.0619, 0.0631, 0.0619, 0.0596, 0.0562, 0.0539, 0.0550, 0.0573, 0.0585, 0.0562,
        0.0573, 0.0608, 0.0596, 0.0608, 0.0619, 0.0631, 0.0642, 0.0631, 0.0653, 0.0631, 0.0619, 0.0608,
        0.0596, 0.0585, 0.0562, 0.0539, 0.0550, 0.0527, 0.0527, 0.0516, 0.0527, 0.0504, 0.0516, 0.0493,
        0.0493, 0.0516, 0.0470, 0.0510, 0.0493, 0.0435, 0.0516, 0.0527, 0.0539, 0.0562, 0.0596, 0.0608,
        0.0619, 0.0631, 0.0665, 0.0677, 0.0688, 0.0705, 0.0694, 0.0682, 0.0665, 0.0653, 0.0642, 0.0625,
        0.0631, 0.0619, 0.0642, 0.0619, 0.0608, 0.0642, 0.0665, 0.0688, 0.0699, 0.0705, 0.0688, 0.0699,
        0.0711, 0.0722, 0.0705, 0.0688, 0.0653, 0.0608, 0.0562, 0.0504, 0.0447, 0.0401, 0.0332, 0.0183,
        0.0241, 0.0160, 0.0596, 0.0264, 0.0160, 0.0115, 0.0137, 0.0080, -0.0086, 0.0046, 0.0103, -0.0046,
        0.0126, 0.0080, 0.0149, 0.0241, 0.0309, 0.0332, 0.0275, 0.0332, 0.0401, 0.0677, 0.0975, 0.0447,
        0.0332, 0.0355, 0.0103, 0.0332, 0.0309, 0.0264, 0.0218, 0.0160, 0.0103, 0.0069, 0.0046, 0.0029,
        0.0005, -0.0006, -0.0012, -0.0012, -0.0018, -0.0023, -0.0006, 0.0000, 0.0017, 0.0029, 0.0034, 0.0023,
        0.0029, 0.0017, 0.0023, 0.0029, 0.0023, 0.0029, 0.0025, 0.0017, 0.0029, 0.0034, 0.0051, 0.0034,
        0.0000, 0.0023, 0.0005, 0.0029, 0.0017, 0.0023, 0.0017, 0.0023, 0.0011, 0.0029, 0.0017, 0.0034,
        0.0029, 0.0005, 0.0034, 0.0029, 0.0034, 0.0034, 0.0040, 0.0040, 0.0046, 0.0046, 0.0051, -0.0138,
        -0.0035, -0.0144, -0.0069, -0.0127, 0.0034, 0.0189, 0.0034, 0.0103, 0.0172, 0.0195, 0.0137, 0.0080,
        0.0023, 0.0000, 0.0011, 0.0000, 0.0005, 0.0005, -0.0006, -0.0006, -0.0018, -0.0023, -0.0018, -0.0023,
        -0.0029, -0.0018, -0.0006, 0.0005, 0.0017, 0.0034, 0.0051, 0.0063, 0.0080, 0.0092, 0.0109, 0.0120,
        0.0137, 0.0143, 0.0155, 0.0155, 0.0149, 0.0143, 0.0132, 0.0120, 0.0126, 0.0097, 0.0120, 0.0080,
        0.0126, 0.0120, 0.0069, 0.0172, 0.0183, 0.0160, 0.0126, 0.0046, -0.0012, 0.0034, 0.0057, 0.0046,
        0.0034, 0.0057, 0.0051, 0.0063, 0.0063, 0.0080, 0.0086, 0.0097, 0.0103, 0.0109, 0.0115, 0.0097,
        0.0120, 0.0137, 0.0155, 0.0160, 0.0155, 0.0172, 0.0241, 0.0264, 0.0275, 0.0281, 0.0269, 0.0281,
        0.0264, 0.0286, 0.0292, 0.0304, 0.0298, 0.0292, 0.0281, 0.0264, 0.0229, 0.0218, 0.0241, 0.0264,
        0.0286, 0.0338, 0.0218, 0.0103, 0.0137, 0.0160, 0.0126, 0.0149, 0.0137, 0.0172, 0.0183, 0.0178,
        0.0200, 0.0206, 0.0218, 0.0223, 0.0235, 0.0246, 0.0264, 0.0275, 0.0286, 0.0298, 0.0307, 0.0286,
        0.0309, 0.0241, 0.0229, 0.0218, 0.0195, 0.0172, 0.0149, 0.0137, 0.0126, 0.0149, 0.0103, 0.0080,
        0.0057, 0.0040, 0.0034, 0.0023, 0.0040, 0.0057, 0.0069, 0.0034, -0.0035, -0.0069, -0.0104, -0.0172,
        -0.0218, -0.0276, -0.0299, -0.0161, 0.0103, -0.0012, -0.0184, 0.0046, 0.0103, -0.0012, 0.0080, -0.0138,
        -0.0012, 0.0080, 0.0103, 0.0137, 0.0218, 0.0241, 0.0264, 0.0286, 0.0309, 0.0321, 0.0332, 0.0344,
        0.0355, 0.0367, 0.0378, 0.0390, 0.0487, 0.0321, 0.0424, 0.0401, 0.0424, 0.0435, 0.0447, 0.0424,
        0.0458, 0.0481, 0.0493, 0.0504, 0.0527, 0.0562, 0.0596, 0.0631, 0.0768, 0.0677, 0.0889, 0.0699,
        0.0653, 0.0562, 0.0504, 0.0470, 0.0539, 0.0378, 0.0321, 0.0470, 0.0481, 0.0447, 0.0435, 0.0447,
        0.0424, 0.0413, 0.0395, 0.0384, 0.0390, 0.0378, 0.0355, 0.0390, 0.0407, 0.0418, 0.0401, 0.0407,
        0.0418, 0.0430, 0.0447, 0.0458, 0.0470, 0.0464, 0.0458, 0.0470, 0.0481, 0.0493, 0.0499, 0.0504,
        0.0499, 0.0424, 0.0504, 0.0510, 0.0493, 0.0424, 0.0516, 0.0677, 0.0860, 0.0585, 0.0585, 0.0562,
        0.0585, 0.0734, 0.0550, 0.0757, 0.020, -0.060, -0.083, -0.080, -0.093, -0.060, -0.030, 0.010,
        -0.020, -0.060, -0.090, -0.123, -0.149, -0.149, -0.030, -0.050, -0.149, -0.149]

series_names = ["East", "North", "Up"]
series_colors = ["#ff0000", "#00a800", "#0000a0"]

x_ticks = [52000, 54000, 56000, 58000, 60000, 62000, 64000, 66000, 68000, 70000]
x_tick_labels = ["52000\nWeek 1679", "54000", "56000", "58000", "60000", "62000",
                 "64000", "66000", "68000", "70000"]
y_ticks = [-0.14, -0.12, -0.10, -0.08, -0.06, -0.04, -0.02, 0.00,
           0.02, 0.04, 0.06, 0.08, 0.10, 0.12, 0.14]

# events shown in the strip above the plot
event_t = [51482, 70110]
event_colors = ["#22cc77", "#1a6fd0"]

x_range = (50585, 70485)
y_range = (-0.15, 0.15)

sns.set_theme(style="white")
plt.rcParams['font.family'] = ['Liberation Sans', 'DejaVu Sans']
plt.rcParams['axes.unicode_minus'] = False

frames = []
for name, t, v in [("East", east_t, east_v), ("North", north_t, north_v), ("Up", up_t, up_v)]:
    frames.append(pd.DataFrame({"time": t, "sep": v, "series": name}))
df = pd.concat(frames, ignore_index=True)

fig = plt.figure(figsize=(16.88, 12.06), dpi=100)
ax = fig.add_axes([0.08945, 0.14801, 0.91055, 0.82794])

sns.lineplot(data=df, x="time", y="sep", hue="series", hue_order=series_names,
             palette=dict(zip(series_names, series_colors)), estimator=None, sort=False,
             errorbar=None, legend=False, linewidth=1.25, ax=ax)

ax.set_xlim(*x_range)
ax.set_ylim(*y_range)
ax.set_xticks(x_ticks)
ax.set_xticklabels(x_tick_labels)
ax.set_yticks(y_ticks)
ax.yaxis.set_major_formatter(FormatStrFormatter('%.2f'))
for lbl in ax.get_xticklabels():
    lbl.set_linespacing(1.6)

ax.xaxis.grid(True, color="#404040", linewidth=1.3)
ax.yaxis.grid(True, color="#151515", linewidth=1.2)
ax.set_axisbelow(True)
ax.tick_params(axis="both", direction="out", length=8.5, width=1.2, color="#333333",
               labelsize=14.5, labelcolor="black", bottom=True, left=True)
ax.tick_params(axis="x", pad=12.5)
ax.tick_params(axis="y", pad=10.3)

for side in ["left", "bottom"]:
    ax.spines[side].set_color("black")
    ax.spines[side].set_linewidth(2.2)
ax.spines["top"].set_color("black")
ax.spines["top"].set_linewidth(2.6)
ax.spines["right"].set_visible(False)

ax.set_xlabel("GPS Time (TOW, GMT zone)", fontsize=19.5, fontweight="bold", va="center")
ax.set_ylabel("Separation (m)", fontsize=17.5, fontweight="bold", va="center")
ax.xaxis.set_label_coords(0.5, -0.0996)
ax.yaxis.set_label_coords(-0.0787, 0.5)

# event strip above the plot
strip = fig.add_axes([0.08945, 0.97595, 0.91055, 0.01907])
strip.set_xlim(*x_range)
strip.set_ylim(0, 1)
for t, c in zip(event_t, event_colors):
    strip.axvline(t, color=c, linewidth=2.2)
strip.set_xticks([])
strip.set_yticks([])
strip.set_facecolor("white")
strip.spines["top"].set_linewidth(1.6)
strip.spines["left"].set_linewidth(2.2)
strip.spines["bottom"].set_visible(False)
strip.spines["right"].set_visible(False)
for side in ["top", "left"]:
    strip.spines[side].set_color("black")

# legend box along the bottom
lax = fig.add_axes([0.08945, 0.0008, 0.91055, 0.02656])
lax.set_xticks([])
lax.set_yticks([])
for side in ["top", "left", "bottom"]:
    lax.spines[side].set_color("black")
    lax.spines[side].set_linewidth(1.8)
lax.spines["right"].set_visible(False)
handles = [Line2D([0], [0], color=c, linewidth=1.0) for c in series_colors]
lax.legend(handles, series_names, loc="center left", ncol=3, frameon=False, fontsize=12.5,
           handlelength=0.92, handletextpad=0.43, columnspacing=1.4, borderaxespad=1.2,
           borderpad=0.0)

fig.savefig("out.png", dpi=100)
